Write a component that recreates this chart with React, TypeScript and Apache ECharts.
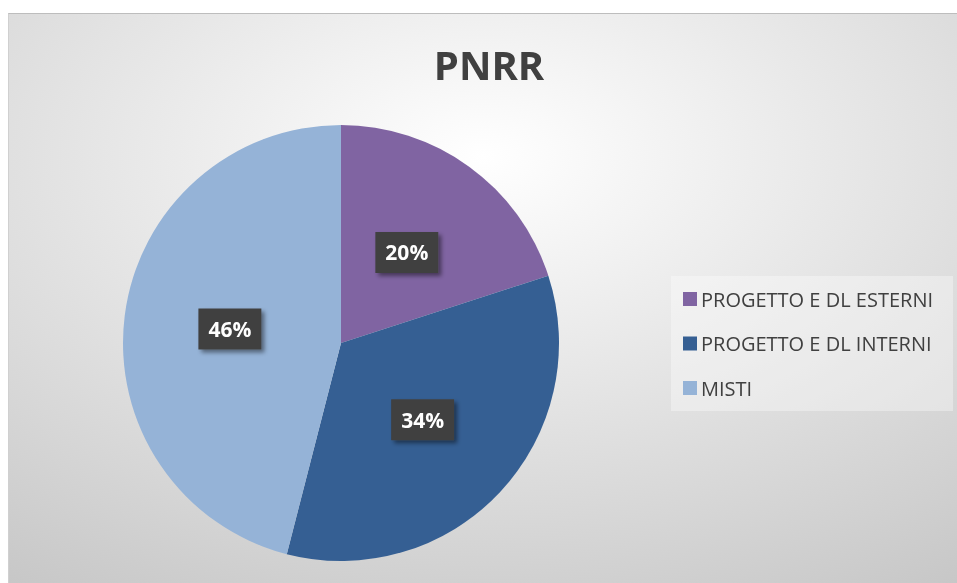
import React, { useEffect, useRef } from "react";
import * as echarts from "echarts";

const title = "PNRR";
const categories = ["PROGETTO E DL ESTERNI", "PROGETTO E DL INTERNI", "MISTI"];
const values = [20, 34, 46];
const colors = ["#8064a2", "#355f93", "#95b3d7"];

export default function App() {
  const ref = useRef<HTMLDivElement>(null);
  useEffect(() => {
    if (!ref.current) return;
    const chart = echarts.init(ref.current, null, { renderer: "svg" });
    chart.setOption({
      animation: false,
      backgroundColor: {
        type: "radial",
        x: 0.5,
        y: 0.25,
        r: 0.95,
        colorStops: [
          { offset: 0, color: "#ffffff" },
          { offset: 1, color: "#c4c4c4" },
        ],
      },
      title: {
        text: title,
        left: 475,
        top: 25,
        textAlign: "center",
        textStyle: {
          fontFamily: "Open Sans",
          fontWeight: "bold",
          fontSize: 40,
          color: "#404040",
        },
      },
      legend: {
        orient: "vertical",
        left: 662,
        top: 262,
        padding: [13, 20, 13, 12],
        backgroundColor: "rgba(255,255,255,0.35)",
        itemWidth: 14,
        itemHeight: 14,
        itemGap: 24.5,
        icon: "rect",
        data: categories,
        textStyle: {
          fontFamily: "Open Sans",
          fontSize: 20,
          lineHeight: 20,
          color: "#404040",
          padding: [0, 0, 0, -1],
        },
      },
      series: [
        {
          type: "pie",
          center: [332, 329],
          radius: 218,
          startAngle: 90,
          clockwise: true,
          data: categories.map((c, i) => ({
            name: c,
            value: values[i],
            itemStyle: { color: colors[i] },
          })),
          label: {
            show: true,
            position: "inside",
            formatter: (p: any) => Math.round(p.percent) + "%",
            fontFamily: "Open Sans",
            fontWeight: "bold",
            fontSize: 21,
            color: "#ffffff",
            backgroundColor: "#404040",
            padding: [11, 10, 9, 10],
            shadowColor: "rgba(0,0,0,0.45)",
            shadowBlur: 4,
            shadowOffsetX: 3,
            shadowOffsetY: 3,
          },
          labelLine: { show: false },
          emphasis: { disabled: true },
        },
      ],
    });
    return () => chart.dispose();
  }, []);
  return (
    <div
      ref={ref}
      style={{
        position: "fixed",
        left: 8,
        top: 13,
        width: 949,
        height: 570,
        boxSizing: "border-box",
        borderTop: "1px solid #bdbdbd",
        borderLeft: "1px solid #d0d0d0",
      }}
    />
  );
}
